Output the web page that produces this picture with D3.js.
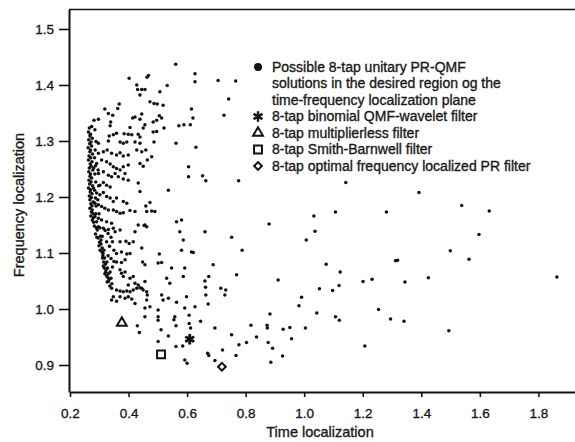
<!DOCTYPE html>
<html>
<head>
<meta charset="utf-8">
<script src="https://cdn.jsdelivr.net/npm/d3@7"></script>
<style>
  body { margin: 0; background: #fff; }
  svg text { font-family: "Liberation Sans", Arial, sans-serif; fill: #1a1a1a; }
</style>
</head>
<body>
<div id="chart"></div>
<script>
// Axis ticks
const xTicks = [0.2, 0.4, 0.6, 0.8, 1.0, 1.2, 1.4, 1.6, 1.8];
const yTicks = [0.9, 1.0, 1.1, 1.2, 1.3, 1.4, 1.5];

// Possible PR-QMF solutions (time localization, frequency localization)
const denseBand = [
  [0.266,1.323],[0.263,1.316],[0.268,1.309],[0.264,1.302],[0.267,1.295],[0.262,1.288],[0.268,1.281],[0.265,1.273],
  [0.263,1.266],[0.269,1.259],[0.266,1.252],[0.264,1.245],[0.268,1.237],[0.265,1.230],[0.267,1.223],[0.263,1.216],
  [0.269,1.209],[0.266,1.202],[0.268,1.195],[0.271,1.188],[0.268,1.180],[0.273,1.173],[0.271,1.166],[0.276,1.159],
  [0.276,1.305],[0.274,1.291],[0.277,1.277],[0.275,1.263],[0.278,1.248],[0.274,1.234],[0.277,1.220],[0.275,1.206],
  [0.279,1.191],[0.276,1.177],[0.280,1.163],[0.283,1.148],[0.287,1.134],
  [0.286,1.284],[0.284,1.270],[0.287,1.256],[0.285,1.241],[0.288,1.227],[0.284,1.212],[0.287,1.198],[0.289,1.184],
  [0.288,1.170],[0.291,1.156],[0.293,1.141],[0.296,1.127],[0.299,1.113],
  [0.296,1.248],[0.298,1.220],[0.295,1.195],[0.299,1.170],[0.302,1.145],[0.304,1.130],[0.306,1.116],[0.309,1.102],[0.311,1.091],
  [0.306,1.123],[0.310,1.109],[0.312,1.095],[0.315,1.084],[0.317,1.073],[0.319,1.063],
  [0.316,1.105],[0.318,1.091],[0.321,1.080],[0.323,1.070],[0.325,1.059],[0.327,1.048],
  [0.326,1.084],[0.328,1.073],[0.331,1.063],[0.333,1.052],[0.336,1.041],
  [0.337,1.066],[0.340,1.055],[0.343,1.045],
  [0.320,1.140],[0.330,1.135],[0.340,1.128],[0.310,1.130],[0.325,1.120],[0.335,1.112],[0.345,1.120],
  [0.350,1.105],[0.330,1.095],[0.340,1.090],[0.350,1.085],[0.345,1.075],
  [0.270,1.312],[0.272,1.298],[0.270,1.284],[0.271,1.270],[0.272,1.255],[0.270,1.241],[0.272,1.227],[0.270,1.213],
  [0.273,1.199],[0.275,1.184],[0.279,1.170],[0.281,1.155],[0.290,1.145],[0.292,1.128],[0.301,1.119],[0.303,1.105],
  [0.313,1.099],[0.314,1.077],[0.322,1.066],[0.330,1.056],[0.281,1.252],[0.280,1.216],[0.282,1.190]
];

const scatterUpper = [
  [0.561,1.437],[0.402,1.412],[0.463,1.414],[0.468,1.417],[0.428,1.400],[0.431,1.392],[0.445,1.392],[0.456,1.392],
  [0.439,1.382],[0.507,1.388],[0.532,1.399],[0.627,1.420],[0.627,1.406],[0.706,1.408],[0.766,1.407],[0.742,1.375],
  [0.726,1.346],[0.473,1.370],[0.487,1.367],[0.498,1.366],[0.518,1.364],[0.368,1.366],[0.363,1.358],[0.319,1.357],
  [0.331,1.349],[0.346,1.346],[0.282,1.337],[0.297,1.339],[0.414,1.341],[0.422,1.343],[0.439,1.339],[0.445,1.348],
  [0.505,1.345],[0.513,1.341],[0.484,1.334],[0.496,1.337],[0.572,1.327],[0.589,1.329],[0.611,1.329],[0.615,1.357],
  [0.620,1.341],[0.337,1.327],[0.339,1.334],[0.274,1.326],[0.285,1.320],[0.405,1.324],[0.456,1.329],[0.450,1.323],
  [0.521,1.323],[0.334,1.309],[0.348,1.311],[0.359,1.314],[0.385,1.313],[0.399,1.312],[0.411,1.311],[0.433,1.312],
  [0.439,1.307],[0.484,1.316],[0.496,1.317],[0.289,1.299],[0.297,1.296],[0.331,1.300],[0.371,1.298],[0.382,1.296],
  [0.394,1.298],[0.422,1.298],[0.439,1.296],[0.487,1.298],[0.562,1.296],[0.630,1.289],[0.605,1.254],[0.605,1.236],
  [0.653,1.238],[0.664,1.229],[0.776,1.229],[0.536,1.212],[0.581,1.159]
];

const scatterMiddle = [
  [0.297,1.278],[0.314,1.281],[0.327,1.284],[0.342,1.278],[0.359,1.275],[0.371,1.279],[0.382,1.273],[0.399,1.275],
  [0.428,1.284],[0.445,1.281],[0.459,1.284],[0.479,1.272],[0.291,1.260],[0.308,1.266],[0.325,1.263],[0.337,1.259],
  [0.348,1.254],[0.359,1.251],[0.371,1.248],[0.382,1.254],[0.399,1.257],[0.439,1.260],[0.450,1.255],[0.464,1.266],
  [0.297,1.242],[0.314,1.245],[0.331,1.239],[0.342,1.236],[0.354,1.242],[0.365,1.236],[0.382,1.232],[0.399,1.230],
  [0.388,1.242],[0.433,1.225],[0.302,1.221],[0.314,1.226],[0.325,1.221],[0.337,1.218],[0.291,1.207],[0.302,1.204],
  [0.314,1.208],[0.325,1.201],[0.337,1.198],[0.348,1.192],[0.359,1.198],[0.382,1.192],[0.394,1.189],[0.439,1.210],
  [0.285,1.189],[0.297,1.186],[0.308,1.183],[0.319,1.180],[0.331,1.177],[0.348,1.177],[0.359,1.174],[0.371,1.171],
  [0.382,1.172],[0.405,1.176],[0.422,1.174],[0.459,1.184],[0.473,1.190],[0.462,1.174],[0.479,1.175],[0.490,1.174],
  [0.285,1.165],[0.297,1.162],[0.308,1.159],[0.325,1.156],[0.342,1.153],[0.433,1.150],[0.456,1.150],[0.564,1.156],
  [0.297,1.147],[0.314,1.144],[0.331,1.142],[0.348,1.144],[0.354,1.138],[0.371,1.141],[0.422,1.138],[0.453,1.149],
  [0.462,1.147],[0.575,1.138],[0.371,1.120],[0.391,1.121],[0.402,1.117],[0.416,1.120],[0.445,1.109],[0.587,1.123],
  [0.581,1.105],[0.359,1.099],[0.376,1.102],[0.394,1.098],[0.405,1.099],[0.505,1.098],[0.359,1.084],[0.376,1.083],
  [0.388,1.088],[0.448,1.084],[0.456,1.079],[0.501,1.082],[0.513,1.083],[0.547,1.073],[0.592,1.073],[0.530,1.055],
  [0.541,1.046],[0.587,1.058],[0.371,1.070],[0.376,1.064],[0.382,1.058],[0.388,1.066],[0.405,1.055],[0.416,1.058],
  [0.456,1.049],[0.331,1.049],[0.399,1.043],[0.422,1.046],[0.433,1.043],[0.445,1.037],[0.342,1.037],[0.359,1.034],
  [0.371,1.032],[0.382,1.031],[0.394,1.032],[0.405,1.031],[0.416,1.034],[0.428,1.037],[0.439,1.038],[0.450,1.034],
  [0.462,1.031],[0.464,1.025],[0.513,1.025],[0.348,1.022],[0.342,1.016],[0.359,1.014],[0.371,1.022],[0.388,1.019],
  [0.399,1.022],[0.411,1.018],[0.422,1.010],[0.462,1.016],[0.536,1.019],[0.598,1.022],[0.456,1.002],[0.473,1.004],
  [0.501,0.998],[0.564,1.012],[0.592,1.002],[0.627,1.004],[0.518,1.016],[0.456,0.986],[0.615,1.102],[0.621,1.101]
];

const scatterLower = [
  [0.501,0.986],[0.501,0.980],[0.558,0.986],[0.555,0.981],[0.607,0.989],[0.430,0.970],[0.437,0.958],[0.511,0.963],
  [0.562,0.970],[0.607,0.974],[0.612,0.966],[0.536,0.952],[0.501,0.942],[0.562,0.933],[0.585,0.934],[0.592,0.909],
  [0.600,0.903],
  [0.661,1.138],[0.752,1.128],[0.788,1.105],[0.689,1.079],[0.674,1.058],[0.661,1.050],[0.663,1.039],[0.664,1.025],
  [0.672,1.009],[0.715,1.037],[0.732,1.034],[0.729,1.025],[0.769,1.061],[0.911,1.052],[0.982,1.006],[0.646,0.978],
  [0.695,0.966],[0.883,0.991],[0.873,0.971],[0.874,0.966],[0.818,0.971],[0.928,0.964],[0.951,0.967],[0.957,0.947],
  [0.752,0.954],[0.837,0.950],[0.803,0.940],[0.777,0.936],[0.877,0.940],[0.892,0.930],[0.721,0.927],[0.670,0.921],
  [0.674,0.917],[0.767,0.917],[0.926,0.916],[0.695,0.908],[0.886,0.905],[0.880,1.152]
];

const scatterRight = [
  [1.142,1.226],[1.392,1.208],[1.538,1.185],[1.632,1.175],[1.033,1.166],[1.107,1.173],[1.281,1.173],[1.037,1.139],
  [1.007,1.123],[1.597,1.133],[1.499,1.104],[1.563,1.089],[1.312,1.086],[1.319,1.087],[1.075,1.080],[1.123,1.066],
  [1.863,1.057],[1.424,1.056],[1.201,1.049],[1.232,1.053],[1.344,1.048],[1.119,1.042],[1.052,1.036],[1.097,1.033],
  [0.991,1.021],[1.043,0.993],[1.107,0.986],[1.120,0.980],[1.254,0.999],[1.295,0.982],[1.341,0.978],[1.494,0.961],
  [1.004,0.966],[1.207,0.934]
];

// Named filters
const filterNames = ["binomial", "multiplierless", "smithBarnwell", "optimal"];
const filterX = [0.609, 0.377, 0.511, 0.719];
const filterY = [0.946, 0.975, 0.919, 0.897];

const legendLabels = [
  ["Possible 8-tap unitary PR-QMF", "solutions in the desired region og the", "time-frequency localization plane"],
  ["8-tap binomial QMF-wavelet filter"],
  ["8-tap multiplierless filter"],
  ["8-tap Smith-Barnwell filter"],
  ["8-tap optimal frequency localized PR filter"]
];

const width = 575, height = 442;
const margin = {top: 9.5, right: 0, bottom: 50, left: 69};
const tickFont = 13.5, titleFont = 14.5, legendFont = 14;

const svg = d3.select("#chart").append("svg")
  .attr("width", width)
  .attr("height", height);

const x = d3.scaleLinear().domain([0.2, 1.925]).range([margin.left + 1, width]);
const y = d3.scaleLinear().domain([0.8518, 1.5348]).range([height - margin.bottom, margin.top]);

const symbolStar = d3.symbolAsterisk || d3.symbolCross;
const symbols = {
  binomial: d3.symbol().type(symbolStar).size(75),
  multiplierless: d3.symbol().type(d3.symbolTriangle).size(42),
  smithBarnwell: d3.symbol().type(d3.symbolSquare).size(62),
  optimal: d3.symbol().type(d3.symbolSquare).size(30)
};
const symbolRotate = {binomial: 0, multiplierless: 0, smithBarnwell: 0, optimal: 45};

// Axes
const xAxis = svg.append("g")
  .attr("transform", "translate(0," + (height - margin.bottom) + ")")
  .call(d3.axisBottom(x).tickValues(xTicks).tickFormat(d3.format(".1f"))
    .tickSize(5).tickSizeOuter(0).tickPadding(11));

const yAxis = svg.append("g")
  .attr("transform", "translate(" + margin.left + ",0)")
  .call(d3.axisLeft(y).tickValues(yTicks).tickFormat(d3.format(".1f"))
    .tickSize(10).tickSizeOuter(0).tickPadding(5));

[xAxis, yAxis].forEach(function(g) {
  g.select(".domain").attr("stroke", "#111").attr("stroke-width", 2);
  g.selectAll(".tick line").attr("stroke", "#111").attr("stroke-width", 1.6);
  g.selectAll(".tick text")
    .attr("font-size", tickFont)
    .attr("font-family", "Liberation Sans, Arial, sans-serif")
    .attr("fill", "#1a1a1a")
    .attr("stroke", "#1a1a1a")
    .attr("stroke-width", 0.35);
});

// top border
svg.append("line")
  .attr("x1", margin.left).attr("x2", width)
  .attr("y1", margin.top).attr("y2", margin.top)
  .attr("stroke", "#111").attr("stroke-width", 1.6);

// Axis titles
svg.append("text")
  .attr("x", 320).attr("y", 437)
  .attr("text-anchor", "middle")
  .attr("font-size", titleFont)
  .attr("stroke", "#1a1a1a").attr("stroke-width", 0.35)
  .text("Time localization");

svg.append("text")
  .attr("transform", "translate(24,205) rotate(-90)")
  .attr("text-anchor", "middle")
  .attr("font-size", titleFont)
  .attr("stroke", "#1a1a1a").attr("stroke-width", 0.35)
  .text("Frequency localization");

// Solution points
const allSolutions = denseBand.concat(scatterUpper, scatterMiddle, scatterLower, scatterRight);

svg.append("g")
  .selectAll("circle")
  .data(allSolutions)
  .enter()
  .append("circle")
  .attr("cx", function(d) { return x(d[0]); })
  .attr("cy", function(d) { return y(d[1]); })
  .attr("r", 1.75)
  .attr("fill", "#111");

// Named filters
const filters = filterNames.map(function(name, i) {
  return {name: name, x: filterX[i], y: filterY[i]};
});

svg.append("g")
  .selectAll("path")
  .data(filters)
  .enter()
  .append("path")
  .attr("transform", function(d) {
    return "translate(" + x(d.x) + "," + y(d.y) + ") rotate(" + symbolRotate[d.name] + ")";
  })
  .attr("d", function(d) { return symbols[d.name](); })
  .attr("fill", function(d) { return d.name == "binomial" ? "#111" : "none"; })
  .attr("stroke", "#111")
  .attr("stroke-width", function(d) { return d.name == "binomial" ? 2.8 : 2; });

// Legend
const legendX = 258, legendTextX = 272, legendTop = 67, lineStep = 16.5;
const legendKeys = ["solution"].concat(filterNames);

let row = 0;
const legend = svg.append("g");
legendLabels.forEach(function(lines, i) {
  const cy = legendTop + row * lineStep;
  const key = legendKeys[i];
  if (key == "solution") {
    legend.append("circle").attr("cx", legendX).attr("cy", cy).attr("r", 4).attr("fill", "#111");
  } else {
    legend.append("path")
      .attr("transform", "translate(" + legendX + "," + cy + ") rotate(" + symbolRotate[key] + ")")
      .attr("d", symbols[key]())
      .attr("fill", key == "binomial" ? "#111" : "none")
      .attr("stroke", "#111")
      .attr("stroke-width", key == "binomial" ? 2.4 : 2);
  }
  lines.forEach(function(line) {
    legend.append("text")
      .attr("x", legendTextX)
      .attr("y", legendTop + row * lineStep)
      .attr("dy", "0.35em")
      .attr("font-size", legendFont)
      .attr("stroke", "#1a1a1a").attr("stroke-width", 0.35)
      .text(line);
    row++;
  });
});
</script>
</body>
</html>
